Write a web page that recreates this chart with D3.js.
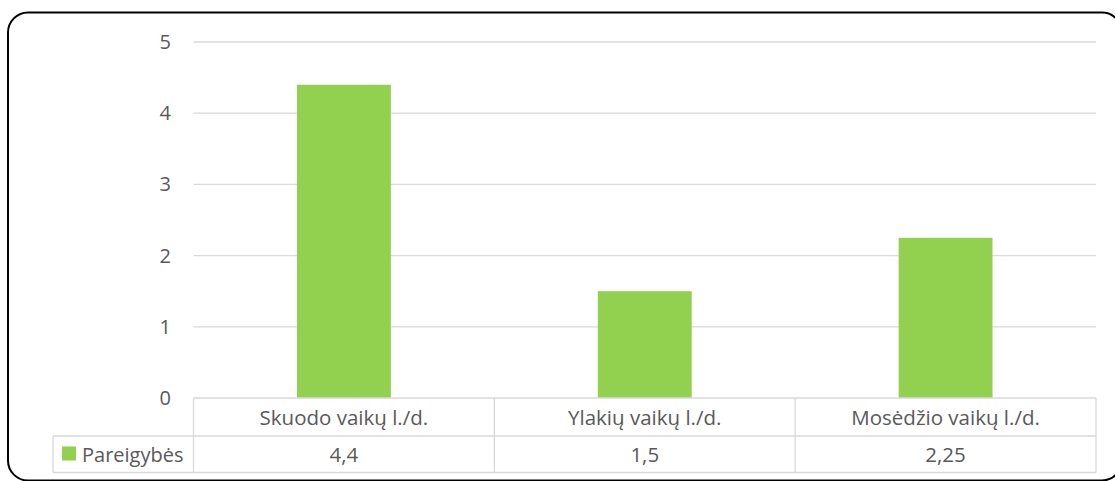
<!DOCTYPE html>
<html><head><meta charset="utf-8">
<script src="https://cdn.jsdelivr.net/npm/d3@7"></script>
<style>body{margin:0;background:#fff}svg{display:block}</style>
</head><body>
<svg id="c" width="1115" height="481"></svg>
<script>
const categories = ["Skuodo vaikų l./d.", "Ylakių vaikų l./d.", "Mosėdžio vaikų l./d."];
const seriesName = "Pareigybės";
const values = [4.4, 1.5, 2.25];
const valueLabels = ["4,4", "1,5", "2,25"];
const yTicks = [0, 1, 2, 3, 4, 5];

(function () {
const svg = d3.select("#c");
const font = "'Open Sans', sans-serif";
const textColor = "#595959";
const gridColor = "#d9d9d9";
const barColor = "#92d050";
const tableFs = 20.5;

svg.append("rect").attr("x", 8).attr("y", 12.5).attr("width", 1114).attr("height", 468)
  .attr("rx", 20).attr("ry", 20).attr("fill", "#fff").attr("stroke", "#000").attr("stroke-width", 2);

const pLeft = 193.5, pRight = 1096, pTop = 42, pBottom = 398;
const x = d3.scaleBand().domain(categories).range([pLeft, pRight]).paddingInner(0).paddingOuter(0);
const y = d3.scaleLinear().domain([0, 5]).range([pBottom, pTop]);

svg.append("g").selectAll("line").data(yTicks.filter(d => d > 0)).join("line")
  .attr("x1", pLeft).attr("x2", pRight).attr("y1", d => y(d)).attr("y2", d => y(d))
  .attr("stroke", gridColor).attr("stroke-width", 1.3);

const yAxis = d3.axisLeft(y).tickValues(yTicks).tickSize(0).tickPadding(0).tickFormat(d3.format("d"));
const ya = svg.append("g").attr("transform", `translate(171,0)`).call(yAxis);
ya.select(".domain").remove();
ya.selectAll("text").attr("font-family", font).attr("font-size", 20).attr("fill", textColor);

const bw = x.bandwidth() * 0.312;
svg.append("g").selectAll("rect").data(values).join("rect")
  .attr("x", (d, i) => x(categories[i]) + (x.bandwidth() - bw) / 2)
  .attr("width", bw)
  .attr("y", d => y(d))
  .attr("height", d => y(0) - y(d))
  .attr("fill", barColor);

const rowMid = 436, tableBottom = 472.5, tableLeft = 53;
const t = svg.append("g").attr("stroke", gridColor).attr("stroke-width", 1.3).attr("fill", "none");
t.append("line").attr("x1", pLeft).attr("x2", pRight).attr("y1", pBottom).attr("y2", pBottom);
t.append("line").attr("x1", tableLeft).attr("x2", pRight).attr("y1", rowMid).attr("y2", rowMid);
t.append("line").attr("x1", tableLeft).attr("x2", pRight).attr("y1", tableBottom).attr("y2", tableBottom);
t.append("line").attr("x1", tableLeft).attr("x2", tableLeft).attr("y1", rowMid).attr("y2", tableBottom);
const cols = categories.map(c => x(c)).concat([pRight]);
t.selectAll("line.v").data(cols).join("line").attr("class", "v")
  .attr("x1", d => d).attr("x2", d => d).attr("y1", pBottom).attr("y2", tableBottom);

svg.append("g").selectAll("text").data(categories).join("text")
  .attr("x", d => x(d) + x.bandwidth() / 2).attr("y", (pBottom + rowMid) / 2 + 1)
  .attr("dy", "0.35em").attr("text-anchor", "middle")
  .attr("font-family", font).attr("font-size", tableFs).attr("fill", textColor).text(d => d);

svg.append("g").selectAll("text").data(valueLabels).join("text")
  .attr("x", (d, i) => x(categories[i]) + x.bandwidth() / 2).attr("y", (rowMid + tableBottom) / 2 + 1)
  .attr("dy", "0.35em").attr("text-anchor", "middle")
  .attr("font-family", font).attr("font-size", tableFs).attr("fill", textColor).text(d => d);

svg.append("rect").attr("x", 62).attr("y", 446.5).attr("width", 14).attr("height", 14).attr("fill", barColor);
svg.append("text").attr("x", 82).attr("y", (rowMid + tableBottom) / 2 + 1).attr("dy", "0.35em")
  .attr("font-family", font).attr("font-size", 20).attr("fill", textColor).text(seriesName);
})();
</script>
</body></html>
